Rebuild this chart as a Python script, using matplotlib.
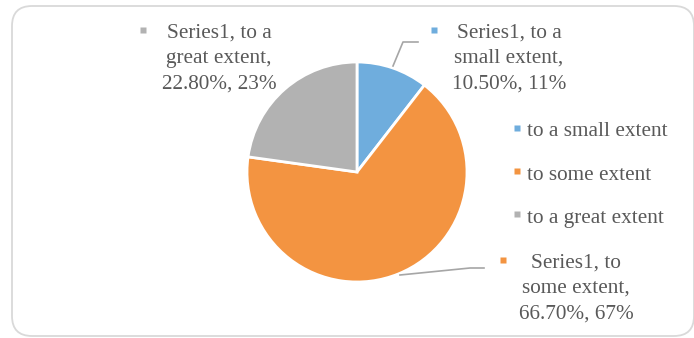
import matplotlib.pyplot as plt
from matplotlib.patches import FancyBboxPatch

categories = ['to a small extent', 'to some extent', 'to a great extent']
values = [10.5, 66.7, 22.8]
rounded = [11, 67, 23]
colors = ['#6FADDD', '#F39441', '#B2B2B2']
series = 'Series1'

plt.rcParams['font.family'] = ['Liberation Serif', 'DejaVu Serif']
txt = '#595959'
H = 338
fs = 15.3

fig = plt.figure(figsize=(6.94, 3.38), dpi=100)
ax = fig.add_axes([0, 0, 1, 1])

# chart area border
border = FancyBboxPatch((12, 2), 682, 330, boxstyle='round,pad=0,rounding_size=20',
                        fc='white', ec='#D9D9D9', lw=1.3, zorder=0)
ax.add_patch(border)

ax.pie(values, colors=colors, startangle=90, counterclock=False,
       center=(357, H - 172), radius=110,
       wedgeprops=dict(edgecolor='white', linewidth=2), frame=True)
ax.set_xlim(0, 694)
ax.set_ylim(0, H)
ax.set_aspect('equal')
ax.axis('off')

# data labels, one line at a time
label_x = [509, 576, 219]
label_y = [33, 263, 33]
wrap = [('Series1, to a', 'small extent,'), ('Series1, to', 'some extent,'), ('Series1, to a', 'great extent,')]
marker_x = [434, 503, 143]
for i in range(3):
    lines = [wrap[i][0], wrap[i][1], '%.2f%%, %d%%' % (values[i], rounded[i])]
    for j, line in enumerate(lines):
        ax.text(label_x[i], H - (label_y[i] + 25.5 * j), line, ha='center', va='center',
                fontsize=fs, color=txt)
    ax.plot(marker_x[i], H - (label_y[i] - 3), marker='s', ms=4.5, color=colors[i], mec='none')

# leader lines
ax.plot([393, 403, 418], [H - 66, H - 42, H - 42], color='#A6A6A6', lw=1.2)
ax.plot([400, 470, 484], [H - 275, H - 268, H - 268], color='#A6A6A6', lw=1.2)

# legend
for i, cat in enumerate(categories):
    ly = 132 + 43 * i
    ax.plot(517, H - ly + 4, marker='s', ms=4.5, color=colors[i], mec='none')
    ax.text(527, H - ly, cat, ha='left', va='center', fontsize=fs, color=txt)

fig.savefig('out.png', dpi=100)
